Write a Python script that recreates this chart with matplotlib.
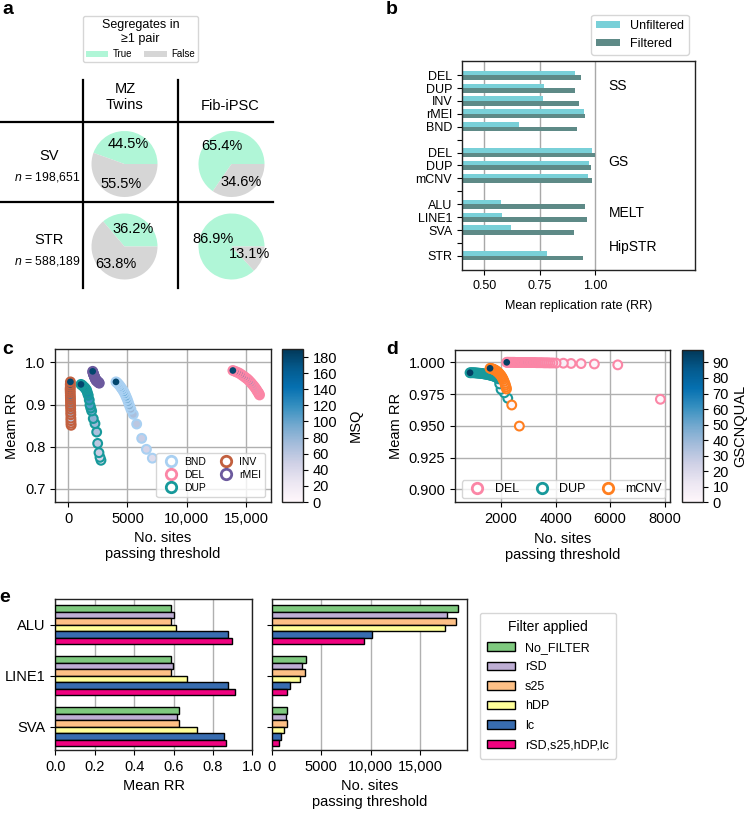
import numpy as np
import matplotlib.pyplot as plt
from matplotlib.lines import Line2D
from matplotlib.ticker import FuncFormatter

plt.rcParams['font.family'] = ['Liberation Sans', 'DejaVu Sans']
plt.rcParams['mathtext.fontset'] = 'custom'
plt.rcParams['mathtext.it'] = 'Liberation Sans:italic'
plt.rcParams['mathtext.rm'] = 'Liberation Sans'
plt.rcParams['axes.edgecolor'] = '#222222'
plt.rcParams['axes.linewidth'] = 1.0

# ---------------- data ----------------
# a: share of variants segregating in >=1 pair
seg_labels = ['True', 'False']
seg_colors = ['#b0f6d7', '#d6d6d6']
pie_cols = ['MZ\nTwins', 'Fib-iPSC']
pie_rows = ['SV', 'STR']
pie_n = ['198,651', '588,189']
pie_true = [[44.5, 65.4], [36.2, 86.9]]

# b: mean replication rate
b_labels = ['DEL', 'DUP', 'INV', 'rMEI', 'BND', '', 'DEL', 'DUP', 'mCNV', '',
            'ALU', 'LINE1', 'SVA', '', 'STR']
b_unfilt = [0.910, 0.771, 0.765, 0.950, 0.658, None, 0.985, 0.971, 0.967, None,
            0.577, 0.580, 0.620, None, 0.783]
b_filt = [0.937, 0.910, 0.929, 0.955, 0.919, None, 1.000, 0.982, 0.988, None,
          0.955, 0.962, 0.905, None, 0.946]
b_groups = ['SS', 'GS', 'MELT', 'HipSTR']

# c: MSQ threshold sweep (high -> low threshold)
c_msq = [180, 172, 164, 156, 148, 140, 132, 124, 116, 108, 100, 92, 84, 76, 68, 60, 52, 44, 36]
c_types = ['BND', 'DEL', 'DUP', 'INV', 'rMEI']
c_colors = ['#a9d0f2', '#fb86a6', '#17999b', '#c2603f', '#6c5a9e']
c_bnd_x = [4029, 4120, 4220, 4320, 4420, 4520, 4620, 4720, 4810, 4900, 4990, 5080, 5180, 5290, 5490, 5777, 6200, 6600, 7100]
c_bnd_y = [0.954, 0.952, 0.949, 0.946, 0.942, 0.938, 0.934, 0.929, 0.924, 0.918, 0.912, 0.905, 0.897, 0.889, 0.877, 0.854, 0.820, 0.794, 0.773]
c_del_x = [13900, 14080, 14250, 14420, 14580, 14730, 14880, 15020, 15160, 15300, 15430, 15550, 15670, 15780, 15880, 15960, 16040, 16100, 16150]
c_del_y = [0.981, 0.979, 0.977, 0.975, 0.972, 0.969, 0.966, 0.963, 0.960, 0.956, 0.952, 0.948, 0.944, 0.940, 0.936, 0.932, 0.929, 0.926, 0.923]
c_dup_x = [1073, 1180, 1290, 1400, 1480, 1554, 1620, 1689, 1774, 1833, 1900, 1976, 2111, 2255, 2399, 2483, 2593, 2680, 2762]
c_dup_y = [0.948, 0.946, 0.943, 0.940, 0.937, 0.934, 0.928, 0.922, 0.911, 0.899, 0.892, 0.885, 0.867, 0.855, 0.835, 0.808, 0.786, 0.775, 0.768]
c_inv_x = [180, 170, 175, 160, 165, 170, 175, 180, 185, 190, 195, 200, 205, 210, 215, 220, 225, 230, 240]
c_inv_y = [0.954, 0.948, 0.943, 0.938, 0.933, 0.928, 0.922, 0.917, 0.912, 0.906, 0.900, 0.895, 0.889, 0.882, 0.876, 0.868, 0.862, 0.856, 0.851]
c_rmei_x = [2061, 2080, 2100, 2120, 2150, 2180, 2200, 2230, 2260, 2290, 2320, 2350, 2380, 2420, 2460, 2500, 2540, 2580, 2618]
c_rmei_y = [0.979, 0.977, 0.975, 0.973, 0.971, 0.969, 0.967, 0.965, 0.963, 0.961, 0.959, 0.958, 0.957, 0.956, 0.955, 0.954, 0.953, 0.952, 0.951]

# d: GSCNQUAL threshold sweep
d_types = ['DEL', 'DUP', 'mCNV']
d_colors = ['#fb86a6', '#17999b', '#ff7f1f']
d_del_q = [0, 1, 2, 3, 4, 5, 6, 8, 10, 12, 15, 18, 21, 24, 27, 30, 33, 36, 39, 42, 45, 48, 51, 54, 57,
           60, 63, 66, 69, 72, 75, 78, 81, 84, 87, 90, 95]
d_del_x = [7846, 6282, 5424, 4936, 4569, 4286, 4018, 3900, 3800, 3720, 3650, 3580, 3510, 3440, 3370,
           3300, 3240, 3180, 3120, 3060, 3000, 2940, 2880, 2820, 2760, 2700, 2640, 2590, 2540, 2490,
           2440, 2390, 2340, 2300, 2260, 2230, 2209]
d_del_y = [0.9709, 0.9980, 0.9987, 0.9990, 0.9991, 0.9993, 0.9994, 0.9995, 0.9995, 0.9996, 0.9996,
           0.9996, 0.9997, 0.9997, 0.9997, 0.9997, 0.9998, 0.9998, 0.9998, 0.9998, 0.9998, 0.9998,
           0.9999, 0.9999, 0.9999, 0.9999, 0.9999, 0.9999, 0.9999, 1.0, 1.0, 1.0, 1.0, 1.0, 1.0, 1.0, 1.0]
d_dup_q = [0, 2, 4, 6, 8, 11, 14, 17, 20, 23, 26, 29, 32, 35, 38, 41, 44, 47, 50, 53, 56, 60, 65, 70, 80, 95]
d_dup_x = [2246, 2120, 2000, 1950, 1902, 1850, 1800, 1750, 1700, 1650, 1600, 1550, 1500, 1450, 1400,
           1350, 1300, 1250, 1200, 1150, 1100, 1050, 1000, 950, 900, 862]
d_dup_y = [0.9717, 0.9760, 0.9787, 0.9830, 0.9870, 0.9880, 0.9885, 0.9890, 0.9893, 0.9896, 0.9899,
           0.9902, 0.9904, 0.9906, 0.9908, 0.9910, 0.9912, 0.9913, 0.9914, 0.9915, 0.9916, 0.9917,
           0.9918, 0.9918, 0.9918, 0.9918]
d_cnv_q = [0, 2, 4, 6, 8, 10, 13, 16, 19, 22, 26, 30, 34, 38, 42, 46, 50, 56, 64, 75, 95]
d_cnv_x = [2672, 2392, 2200, 2183, 2160, 2140, 2110, 2080, 2050, 2024, 1990, 1950, 1910, 1870, 1830,
           1790, 1750, 1710, 1670, 1630, 1596]
d_cnv_y = [0.9498, 0.9664, 0.9790, 0.9805, 0.9820, 0.9834, 0.9850, 0.9865, 0.9877, 0.9887, 0.9898,
           0.9908, 0.9917, 0.9925, 0.9932, 0.9938, 0.9942, 0.9946, 0.9949, 0.9951, 0.9953]

# e: MELT filters
e_types = ['ALU', 'LINE1', 'SVA']
e_filters = ['No_FILTER', 'rSD', 's25', 'hDP', 'lc', 'rSD,s25,hDP,lc']
e_colors = ['#7fc97f', '#beaed4', '#fdc086', '#ffff99', '#386cb0', '#f0027f']
e_rr = [[0.589, 0.586, 0.630],
        [0.600, 0.595, 0.617],
        [0.589, 0.586, 0.629],
        [0.613, 0.670, 0.721],
        [0.877, 0.877, 0.855],
        [0.896, 0.911, 0.865]]
e_sites = [[18788, 3434, 1515],
           [17677, 3030, 1414],
           [18616, 3364, 1515],
           [17535, 2859, 1212],
           [10101, 1879, 939],
           [9354, 1576, 737]]

# ---------------- layout helpers ----------------
W, H = 752, 817
fig = plt.figure(figsize=(W / 100, H / 100), dpi=100)


def box(l, t, r, b):
    return [l / W, 1 - b / H, (r - l) / W, (b - t) / H]


def sites_fmt(v, pos):
    return f'{v:,.0f}' if v >= 10000 else f'{v:.0f}'


TICK = 10.5
MS = 40      # scatter marker area
MLW = 1.5    # scatter edge width

# ---------------- panel a ----------------
ax_a = fig.add_axes(box(0, 0, 300, 300))
ax_a.set_xlim(0, 300)
ax_a.set_ylim(300, 0)
ax_a.axis('off')
ax_a.plot([83, 83], [80, 288], color='black', lw=1.6)
ax_a.plot([178, 178], [80, 288], color='black', lw=1.6)
ax_a.plot([0, 273], [121.5, 121.5], color='black', lw=1.6)
ax_a.plot([0, 273], [201.5, 201.5], color='black', lw=1.6)
ax_a.text(125, 97, pie_cols[0], ha='center', va='center', fontsize=10.5)
ax_a.text(230, 106, pie_cols[1], ha='center', va='center', fontsize=10.5)
for r, ry in enumerate([156, 240]):
    ax_a.text(49, ry, pie_rows[r], ha='center', va='center', fontsize=10.5)
    ax_a.text(47, ry + 21, r'$n$ = ' + pie_n[r], ha='center', va='center', fontsize=8.8)

pie_cx = [124.5, 231.5]
pie_cy = [164, 246.5]
wedges = None
for r in range(2):
    for c in range(2):
        cx, cy = pie_cx[c], pie_cy[r]
        axp = fig.add_axes(box(cx - 36, cy - 36, cx + 36, cy + 36))
        t = pie_true[r][c]
        w, _, _ = axp.pie([t, 100 - t], colors=seg_colors, startangle=0,
                          autopct='%.1f%%', textprops={'fontsize': 10.5})
        axp.set_xlim(-36 / 33, 36 / 33)
        axp.set_ylim(-36 / 33, 36 / 33)
        axp.set_aspect('equal')
        wedges = w
leg_a = fig.legend(wedges, seg_labels, title='Segregates in\n≥1 pair', ncol=2,
                   loc='upper center', bbox_to_anchor=(140.5 / W, 1 - 11 / H),
                   fontsize=7, title_fontsize=9, handlelength=2.3, handleheight=0.6,
                   columnspacing=1.2, handletextpad=0.5, borderpad=0.3, alignment='center')
leg_a.get_title().set_multialignment('center')

# ---------------- panel b ----------------
axb = fig.add_axes(box(462, 61, 695, 270))
keep = [i for i, lab in enumerate(b_labels) if lab]
yk = np.array(keep, dtype=float)
axb.barh(yk - 0.175, [b_unfilt[i] for i in keep], height=0.35, color='#79d0d8', label='Unfiltered')
axb.barh(yk + 0.175, [b_filt[i] for i in keep], height=0.35, color='#5e8a87', label='Filtered')
axb.set_yticks(np.arange(len(b_labels)))
axb.set_yticklabels(b_labels, fontsize=9)
axb.set_ylim(15.1, -1.1)
axb.set_xlim(0.4, 1.45)
axb.set_xticks([0.5, 0.75, 1.0])
axb.set_xticklabels(['0.50', '0.75', '1.00'], fontsize=9)
axb.set_axisbelow(True)
axb.grid(axis='x', color='#a8a8a8', lw=1)
axb.set_xlabel('Mean replication rate (RR)', fontsize=9, labelpad=6)
for g, gy in zip(b_groups, [0.85, 6.75, 10.7, 13.35]):
    axb.text(1.06, gy, g, ha='left', va='center', fontsize=10)
axb.legend(loc='lower right', bbox_to_anchor=(0.974, 1.029), borderaxespad=0,
           fontsize=9, handlelength=1.9, handleheight=0.55, borderpad=0.4)

# ---------------- panel c ----------------
axc = fig.add_axes(box(55, 349, 271, 502))
c_xs = [c_bnd_x, c_del_x, c_dup_x, c_inv_x, c_rmei_x]
c_ys = [c_bnd_y, c_del_y, c_dup_y, c_inv_y, c_rmei_y]
order = np.argsort(c_msq)
sc = None
for xs, ys, col in zip(c_xs, c_ys, c_colors):
    sc = axc.scatter(np.array(xs)[order], np.array(ys)[order], c=np.array(c_msq)[order],
                     cmap='PuBu', vmin=0, vmax=190, s=MS, edgecolors=col, linewidths=MLW, zorder=3)
axc.set_xlim(-1120, 17120)
axc.set_ylim(0.669, 1.032)
axc.set_xticks([0, 5000, 10000, 15000])
axc.set_yticks([0.7, 0.8, 0.9, 1.0])
axc.xaxis.set_major_formatter(FuncFormatter(sites_fmt))
axc.tick_params(labelsize=TICK)
axc.grid(color='#b0b0b0', lw=1)
axc.set_axisbelow(True)
axc.set_ylabel('Meam RR', fontsize=TICK)
axc.set_xlabel('No. sites\npassing threshold', fontsize=TICK)
c_handles = [Line2D([], [], ls='', marker='o', mfc='white', mec=col, mew=2, ms=7.5)
             for col in c_colors]
axc.legend(c_handles, c_types, ncol=2, loc='lower right', bbox_to_anchor=(0.972, 0.035),
           borderaxespad=0, fontsize=7.5, handletextpad=0.3, columnspacing=0.9,
           labelspacing=0.3, borderpad=0.35)
cax_c = fig.add_axes(box(282, 349, 303, 502))
cb_c = fig.colorbar(sc, cax=cax_c)
cb_c.set_ticks(range(0, 181, 20))
cb_c.ax.tick_params(labelsize=TICK)
cb_c.set_label('MSQ', fontsize=TICK, labelpad=8)

# ---------------- panel d ----------------
axd = fig.add_axes(box(455, 350, 670.3, 502.3))
d_qs = [d_del_q, d_dup_q, d_cnv_q]
d_xs = [d_del_x, d_dup_x, d_cnv_x]
d_ys = [d_del_y, d_dup_y, d_cnv_y]
for qs, xs, ys, col in zip(d_qs, d_xs, d_ys, d_colors):
    o = np.argsort(qs, kind='stable')
    sd = axd.scatter(np.array(xs)[o], np.array(ys)[o], c=np.array(qs)[o], cmap='PuBu',
                     vmin=0, vmax=98, s=MS, edgecolors=col, linewidths=MLW, zorder=3)
axd.set_xlim(310, 8210)
axd.set_ylim(0.8898, 1.0097)
axd.set_xticks([2000, 4000, 6000, 8000])
axd.set_yticks([0.9, 0.925, 0.95, 0.975, 1.0])
axd.yaxis.set_major_formatter(FuncFormatter(lambda v, p: f'{v:.3f}'))
axd.tick_params(labelsize=TICK)
axd.grid(color='#b0b0b0', lw=1)
axd.set_axisbelow(True)
axd.set_ylabel('Meam RR', fontsize=TICK)
axd.set_xlabel('No. sites\npassing threshold', fontsize=TICK)
d_handles = [Line2D([], [], ls='', marker='o', mfc='white', mec=col, mew=2, ms=7.5)
             for col in d_colors]
axd.legend(d_handles, d_types, ncol=3, loc='lower left',
           bbox_to_anchor=(0.031, 0.026, 0.946, 0.12), mode='expand', borderaxespad=0,
           fontsize=9, handletextpad=0.4, borderpad=0.25)
cax_d = fig.add_axes(box(681.7, 350, 702.7, 502.3))
cb_d = fig.colorbar(sd, cax=cax_d)
cb_d.set_ticks(range(0, 91, 10))
cb_d.ax.tick_params(labelsize=TICK)
cb_d.set_label('GSCNQUAL', fontsize=TICK, labelpad=3)

# ---------------- panel e ----------------
axe1 = fig.add_axes(box(55.3, 599.3, 252.3, 750))
axe2 = fig.add_axes(box(271.7, 599.3, 466.7, 750), sharey=axe1)
bh = 0.128
ye = np.arange(len(e_types))
for j, (fname, col) in enumerate(zip(e_filters, e_colors)):
    off = (j - 2.5) * bh
    axe1.barh(ye + off, e_rr[j], height=bh, color=col, edgecolor='black', lw=1, label=fname, zorder=3)
    axe2.barh(ye + off, e_sites[j], height=bh, color=col, edgecolor='black', lw=1, zorder=3)
axe1.set_ylim(2.457, -0.504)
axe1.set_yticks(ye)
axe1.set_yticklabels(e_types)
axe1.set_xlim(0, 1.0)
axe1.set_xticks(np.arange(0, 1.01, 0.2))
axe1.xaxis.set_major_formatter(FuncFormatter(lambda v, p: f'{v:.1f}'))
axe1.tick_params(labelsize=TICK)
axe1.grid(axis='x', color='#b0b0b0', lw=1)
axe1.set_xlabel('Mean RR', fontsize=TICK)
axe2.set_xlim(0, 19700)
axe2.set_xticks([0, 5000, 10000, 15000])
axe2.xaxis.set_major_formatter(FuncFormatter(sites_fmt))
axe2.tick_params(labelsize=TICK, labelleft=False)
axe2.grid(axis='x', color='#b0b0b0', lw=1)
axe2.set_xlabel('No. sites\npassing threshold', fontsize=TICK)
fig.legend(*axe1.get_legend_handles_labels(), title='Filter applied', loc='upper left',
           bbox_to_anchor=(473.7 / W, 1 - 606.7 / H), fontsize=9, title_fontsize=10,
           handlelength=2.2, handleheight=0.7, labelspacing=0.6, borderpad=0.6)

# ---------------- panel letters ----------------
for lab, px, py in [('a', 7.5, 10), ('b', 392, 9), ('c', 8, 350), ('d', 392, 350), ('e', 5, 598)]:
    fig.text(px / W, 1 - py / H, lab, fontsize=14, fontweight='bold', ha='center', va='center')

fig.savefig('out.png', dpi=100)
